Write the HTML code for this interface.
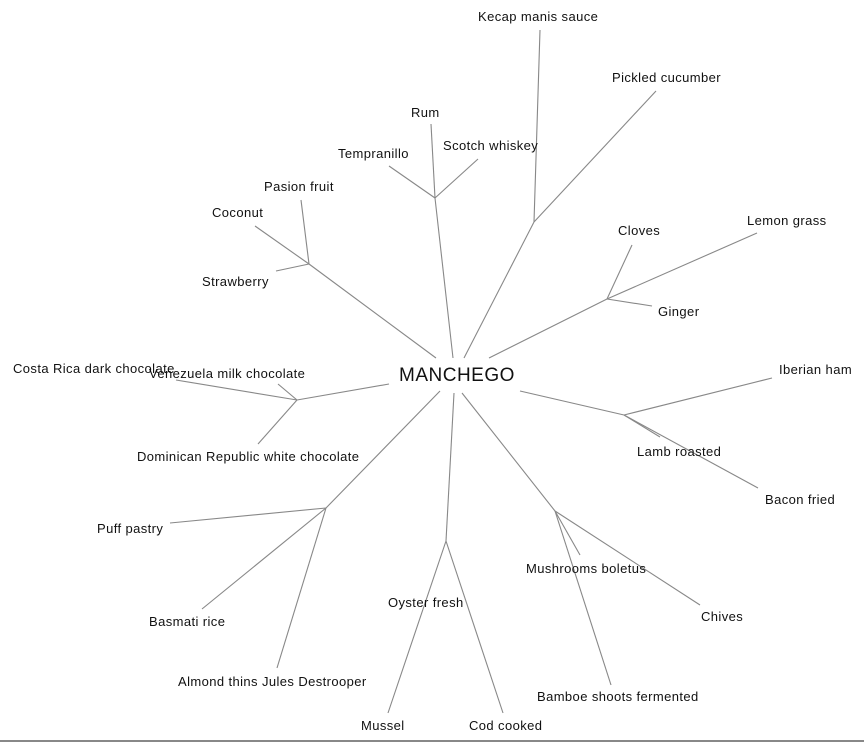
<!DOCTYPE html>
<html><head><style>
html,body{margin:0;padding:0;background:#fff;}
svg{display:block;}
text{font-family:"Liberation Sans",Arial,sans-serif;font-size:13px;fill:#111;letter-spacing:0.4px;}
</style></head><body>
<svg width="864" height="743" viewBox="0 0 864 743">
<g stroke="#888" stroke-width="1.1" fill="none">
<line x1="453" y1="358" x2="435" y2="198"/>
<line x1="435" y1="198" x2="431" y2="124"/>
<line x1="435" y1="198" x2="389" y2="166"/>
<line x1="435" y1="198" x2="478" y2="159"/>
<line x1="464" y1="358" x2="534" y2="222"/>
<line x1="534" y1="222" x2="540" y2="30"/>
<line x1="534" y1="222" x2="656" y2="91"/>
<line x1="489" y1="358" x2="607" y2="299"/>
<line x1="607" y1="299" x2="632" y2="245"/>
<line x1="607" y1="299" x2="652" y2="306"/>
<line x1="607" y1="299" x2="757" y2="233"/>
<line x1="436" y1="358" x2="309" y2="264"/>
<line x1="309" y1="264" x2="301" y2="200"/>
<line x1="309" y1="264" x2="255" y2="226"/>
<line x1="309" y1="264" x2="276" y2="271"/>
<line x1="389" y1="384" x2="297" y2="400"/>
<line x1="297" y1="400" x2="176" y2="380"/>
<line x1="297" y1="400" x2="278" y2="384"/>
<line x1="297" y1="400" x2="258" y2="444"/>
<line x1="440" y1="391" x2="326" y2="508"/>
<line x1="326" y1="508" x2="170" y2="523"/>
<line x1="326" y1="508" x2="202" y2="609"/>
<line x1="326" y1="508" x2="277" y2="668"/>
<line x1="454" y1="393" x2="446" y2="541"/>
<line x1="446" y1="541" x2="388" y2="713"/>
<line x1="446" y1="541" x2="503" y2="713"/>
<line x1="462" y1="393" x2="555" y2="511"/>
<line x1="555" y1="511" x2="580" y2="555"/>
<line x1="555" y1="511" x2="700" y2="605"/>
<line x1="555" y1="511" x2="611" y2="685"/>
<line x1="520" y1="391" x2="624" y2="415"/>
<line x1="624" y1="415" x2="772" y2="378"/>
<line x1="624" y1="415" x2="660" y2="437"/>
<line x1="624" y1="415" x2="758" y2="488"/>
<line x1="0" y1="741" x2="864" y2="741" stroke-width="2"/>
</g>
<text x="399" y="381" style="font-size:19px;letter-spacing:0.5px">MANCHEGO</text>
<text x="478" y="21">Kecap manis sauce</text>
<text x="612" y="82">Pickled cucumber</text>
<text x="411" y="117">Rum</text>
<text x="443" y="150">Scotch whiskey</text>
<text x="338" y="158">Tempranillo</text>
<text x="264" y="191">Pasion fruit</text>
<text x="212" y="217">Coconut</text>
<text x="202" y="286">Strawberry</text>
<text x="618" y="235">Cloves</text>
<text x="747" y="225">Lemon grass</text>
<text x="658" y="316">Ginger</text>
<text x="13" y="373">Costa Rica dark chocolate</text>
<text x="149" y="378">Venezuela milk chocolate</text>
<text x="137" y="461">Dominican Republic white chocolate</text>
<text x="779" y="374">Iberian ham</text>
<text x="637" y="456">Lamb roasted</text>
<text x="765" y="504">Bacon fried</text>
<text x="97" y="533">Puff pastry</text>
<text x="526" y="573">Mushrooms boletus</text>
<text x="388" y="607">Oyster fresh</text>
<text x="701" y="621">Chives</text>
<text x="149" y="626">Basmati rice</text>
<text x="178" y="686">Almond thins Jules Destrooper</text>
<text x="537" y="701">Bamboe shoots fermented</text>
<text x="361" y="730">Mussel</text>
<text x="469" y="730">Cod cooked</text>
</svg>
</body></html>
